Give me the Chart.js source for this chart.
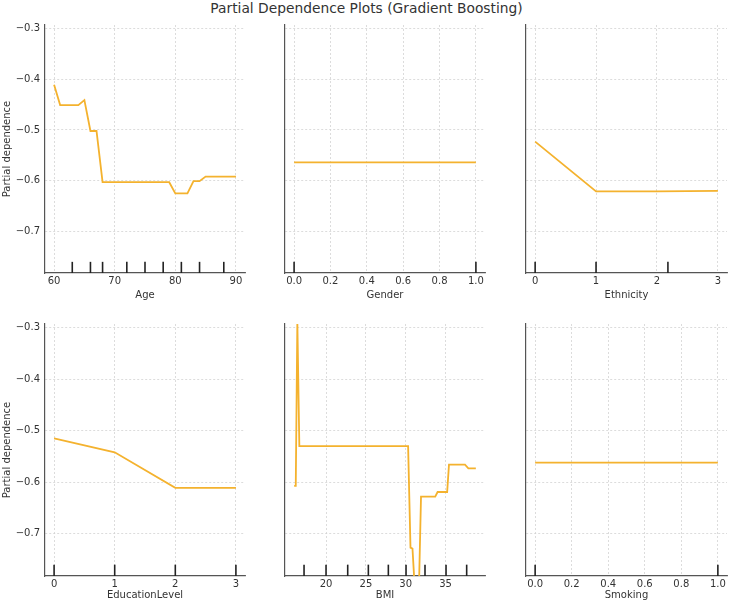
<!DOCTYPE html>
<html>
<head>
<meta charset="utf-8">
<script src="https://cdn.jsdelivr.net/npm/chart.js@4.4.1/dist/chart.umd.min.js"></script>
<style>
  body { margin: 0; background: #fff; width: 729px; height: 605px; position: relative; overflow: hidden; font-family: "DejaVu Sans"; }
  #title { position: absolute; top: 0; left: 0; width: 733px; text-align: center; font-size: 13.8px; line-height: 17px; color: #333; }
  .cell { position: absolute; }
</style>
</head>
<body>
<div id="title">Partial Dependence Plots (Gradient Boosting)</div>
<!-- left panels start 6px higher: their tick labels push the chart area down by 11px -->
<div class="cell" style="left:0;top:14px;width:250px;height:291px"><canvas id="p0"></canvas></div>
<div class="cell" style="left:250px;top:20px;width:240px;height:285px"><canvas id="p1"></canvas></div>
<div class="cell" style="left:490px;top:20px;width:239px;height:285px"><canvas id="p2"></canvas></div>
<div class="cell" style="left:0;top:313px;width:250px;height:292px"><canvas id="p3"></canvas></div>
<div class="cell" style="left:250px;top:319px;width:240px;height:286px"><canvas id="p4"></canvas></div>
<div class="cell" style="left:490px;top:319px;width:239px;height:286px"><canvas id="p5"></canvas></div>
<script>
// values
const ageX = [60, 61, 64, 65, 66, 67, 68, 79, 80, 82, 83, 84, 85, 90]
const ageY = [-0.411, -0.451, -0.451, -0.441, -0.502, -0.502, -0.603, -0.603, -0.625, -0.625, -0.601, -0.601, -0.592, -0.592]
const ageDeciles = [63, 66, 68, 72, 75, 78, 81, 84, 88]
const ageTicks = [60, 70, 80, 90]

const genderX = [0, 1]
const genderY = [-0.564, -0.564]
const genderDeciles = [0, 1]
const unitTicks = [0, 0.2, 0.4, 0.6, 0.8, 1.0]

const ethnicityX = [0, 1, 2, 3]
const ethnicityY = [-0.523, -0.621, -0.621, -0.620]
const ethnicityDeciles = [0, 1, 2.18]
const catTicks = [0, 1, 2, 3]

const eduX = [0, 1, 2, 3]
const eduY = [-0.515, -0.542, -0.611, -0.611]
const eduDeciles = [0, 1, 2, 3]

const bmiX = [16.0, 16.2, 16.4, 16.65, 30.3, 30.6, 30.85, 31.3, 31.67, 31.92, 33.7, 34.0, 35.2, 35.43, 37.44, 37.86, 38.8]
const bmiY = [-0.607, -0.607, -0.289, -0.530, -0.530, -0.727, -0.729, -0.85, -0.80, -0.628, -0.628, -0.619, -0.619, -0.566, -0.566, -0.573, -0.573]
const bmiDeciles = [17.24, 20.0, 22.72, 25.31, 27.82, 30.04, 32.42, 35.06, 37.65]
const bmiTicks = [20, 25, 30, 35]

const smokingX = [0, 1]
const smokingY = [-0.562, -0.562]
const smokingDeciles = [0, 1]

const yTicks = [-0.3, -0.4, -0.5, -0.6, -0.7]

const lineColor = "#f4b22e"

Chart.defaults.font.family = "DejaVu Sans"
Chart.defaults.font.size = 10
Chart.defaults.color = "#333"

// short black marks at the bottom of each panel, one per decile
const decilePlugin = {
  id: "deciles",
  afterDatasetsDraw(chart, args, opts) {
    const { ctx, chartArea } = chart
    const xs = chart.scales.x
    const h = (chartArea.bottom - chartArea.top) * 0.045
    ctx.save()
    ctx.strokeStyle = "#222"
    ctx.lineWidth = 1.6
    opts.values.forEach((v) => {
      const px = xs.getPixelForValue(v)
      ctx.beginPath()
      ctx.moveTo(px, chartArea.bottom)
      ctx.lineTo(px, chartArea.bottom - h)
      ctx.stroke()
    })
    ctx.restore()
  },
}

function fmtY(v) {
  return (v < 0 ? "\u2212" : "") + Math.abs(v).toFixed(1)
}

function makePanel(id, p) {
  return new Chart(document.getElementById(id), {
    type: "line",
    data: {
      datasets: [
        {
          data: p.x.map((v, i) => ({ x: v, y: p.y[i] })),
          borderColor: lineColor,
          borderWidth: 1.8,
          pointRadius: 0,
          tension: 0,
        },
      ],
    },
    options: {
      responsive: true,
      maintainAspectRatio: false,
      animation: false,
      layout: { padding: { top: p.left ? 0 : 5, right: p.padRight, bottom: 0, left: 0 } },
      plugins: {
        legend: { display: false },
        tooltip: { enabled: false },
        deciles: { values: p.deciles },
      },
      scales: {
        x: {
          type: "linear",
          min: p.min,
          max: p.max,
          afterBuildTicks: (ax) => {
            ax.ticks = p.ticks.map((v) => ({ value: v }))
          },
          afterFit: (ax) => {
            ax.height = p.xh
          },
          ticks: {
            padding: 2,
            maxRotation: 0,
            callback: (v) => v.toFixed(p.digits),
          },
          grid: { color: "#d4d4d4", lineWidth: 0.8, drawTicks: false },
          border: { color: "#555", width: 1.2, dash: [2, 2] },
          title: { display: true, text: p.label, padding: { top: 0, bottom: 4 } },
        },
        y: {
          min: -0.782,
          max: -0.293,
          afterBuildTicks: (ax) => {
            ax.ticks = yTicks.map((v) => ({ value: v }))
          },
          afterFit: (ax) => {
            ax.width = p.yw
          },
          ticks: { display: p.left, padding: 5, callback: fmtY },
          grid: { color: "#d4d4d4", lineWidth: 0.8, drawTicks: false },
          border: { color: "#555", width: 1.2, dash: [2, 2] },
          title: { display: p.left, text: "Partial dependence", padding: { top: 1, bottom: 0 } },
        },
      },
    },
    plugins: [decilePlugin],
  })
}

makePanel("p0", { x: ageX, y: ageY, deciles: ageDeciles, ticks: ageTicks, min: 58.5, max: 91.5, digits: 0, label: "Age", left: true, yw: 45, padRight: 5, xh: 32 })
makePanel("p1", { x: genderX, y: genderY, deciles: genderDeciles, ticks: unitTicks, min: -0.05, max: 1.05, digits: 1, label: "Gender", left: false, yw: 35, padRight: 5, xh: 32 })
makePanel("p2", { x: ethnicityX, y: ethnicityY, deciles: ethnicityDeciles, ticks: catTicks, min: -0.15, max: 3.15, digits: 0, label: "Ethnicity", left: false, yw: 36, padRight: 2, xh: 32 })
makePanel("p3", { x: eduX, y: eduY, deciles: eduDeciles, ticks: catTicks, min: -0.15, max: 3.15, digits: 0, label: "EducationLevel", left: true, yw: 45, padRight: 5, xh: 29 })
makePanel("p4", { x: bmiX, y: bmiY, deciles: bmiDeciles, ticks: bmiTicks, min: 14.85, max: 39.95, digits: 0, label: "BMI", left: false, yw: 35, padRight: 5, xh: 29 })
makePanel("p5", { x: smokingX, y: smokingY, deciles: smokingDeciles, ticks: unitTicks, min: -0.05, max: 1.05, digits: 1, label: "Smoking", left: false, yw: 36, padRight: 2, xh: 29 })
</script>
</body>
</html>
